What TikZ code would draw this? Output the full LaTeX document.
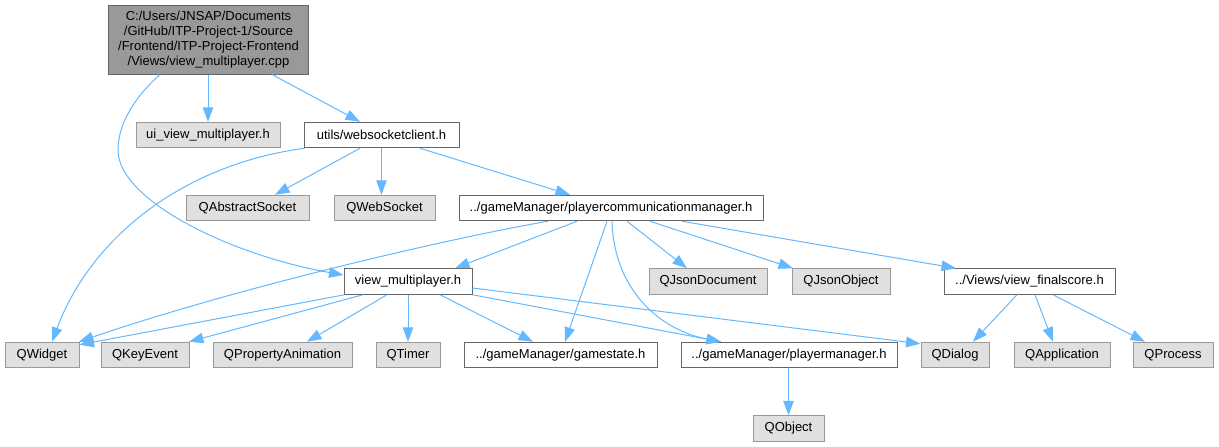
\documentclass[tikz,border=0pt]{standalone}
\usepackage{fontspec}
\setmainfont{Liberation Sans}
\usetikzlibrary{arrows.meta}
\definecolor{edgeblue}{HTML}{63B8FF}
\definecolor{nodegrey}{HTML}{E0E0E0}
\definecolor{bordergrey}{HTML}{999999}
\definecolor{borderdark}{HTML}{666666}
\definecolor{rootfill}{HTML}{999999}
\newcommand{\dgfont}{\fontsize{13}{15}\selectfont}
\begin{document}
\begin{tikzpicture}[x=1pt,y=1pt,
  basebox/.style={draw, line width=1pt, minimum height=25.5pt, inner sep=0pt, font=\dgfont},
  gbox/.style={basebox, fill=nodegrey, draw=bordergrey},
  wbox/.style={basebox, fill=white, draw=borderdark},
  rootbox/.style={draw=borderdark, fill=rootfill, line width=1pt, inner sep=0pt, font=\dgfont, align=center},
  edge/.style={draw=edgeblue, line width=1pt, -{Triangle[length=14.5pt,width=10.5pt]}}]
\useasboundingbox (0,0) rectangle (1219,-447);
% nodes
\node[rootbox, minimum width=200pt, minimum height=69pt] (root) at (208.5,-39.5)
  {C:/Users/JNSAP/Documents\\/GitHub/ITP-Project-1/Source\\/Frontend/ITP-Project-Frontend\\/Views/view\_multiplayer.cpp};
\node[gbox, minimum width=144pt] (ui) at (208,-135) {ui\_view\_multiplayer.h};
\node[wbox, minimum width=155pt] (ws) at (381.5,-135) {utils/websocketclient.h};
\node[gbox, minimum width=123pt] (qas) at (247.5,-208) {QAbstractSocket};
\node[gbox, minimum width=101pt] (qws) at (384.5,-208) {QWebSocket};
\node[wbox, minimum width=304pt] (pcm) at (611,-208) {../gameManager/playercommunicationmanager.h};
\node[wbox, minimum width=128pt] (vm) at (408,-281.5) {view\_multiplayer.h};
\node[gbox, minimum width=118pt] (qjd) at (708,-281.5) {QJsonDocument};
\node[gbox, minimum width=98pt] (qjo) at (841,-281.5) {QJsonObject};
\node[wbox, minimum width=171pt] (vfs) at (1029.5,-281.5) {../Views/view\_finalscore.h};
\node[gbox, minimum width=74pt] (qw) at (42,-355) {QWidget};
\node[gbox, minimum width=88pt] (qke) at (145,-355) {QKeyEvent};
\node[gbox, minimum width=139pt] (qpa) at (282.5,-355) {QPropertyAnimation};
\node[gbox, minimum width=64pt] (qt) at (408,-355) {QTimer};
\node[wbox, minimum width=193pt] (gs) at (560.5,-355) {../gameManager/gamestate.h};
\node[wbox, minimum width=216pt] (pm) at (789,-355) {../gameManager/playermanager.h};
\node[gbox, minimum width=68pt] (qd) at (955,-355) {QDialog};
\node[gbox, minimum width=96pt] (qa) at (1062,-355) {QApplication};
\node[gbox, minimum width=80pt] (qp) at (1173,-355) {QProcess};
\node[gbox, minimum width=71pt] (qo) at (788.5,-428.5) {QObject};
% edges from root
\draw[edge] (ui.north |- root.south) -- (ui.north);
\draw[edge] ([xshift=63.5pt]root.south) -- ([xshift=-21.5pt]ws.north);
\draw[edge] ([xshift=-48.5pt]root.south) .. controls (140,-92) and (118,-120) .. (118,-150)
  .. controls (118,-200) and (230,-255) .. ([yshift=6.5pt]vm.west);
% edges from websocketclient
\draw[edge] ([xshift=1pt]ws.south west) .. controls (180,-165) and (90,-240) .. ([xshift=10pt]qw.north);
\draw[edge] ([xshift=-21.5pt]ws.south) -- ([xshift=27.5pt]qas.north);
\draw[edge] (ws.south) -- (ws.south |- qws.north);
\draw[edge] ([xshift=38.5pt]ws.south) -- ([xshift=-41pt]pcm.north);
% edges from playercommunicationmanager
\draw[edge] ([xshift=-63pt]pcm.south) .. controls (440,-240) and (230,-290) .. ([xshift=37pt]qw.north);
\draw[edge] ([xshift=-34pt]pcm.south) -- ([xshift=47pt]vm.north);
\draw[edge] ([xshift=-4pt]pcm.south) -- ([xshift=4.5pt]gs.north);
\draw[edge] ([xshift=1pt]pcm.south) .. controls (614,-290) and (660,-330) .. ([xshift=-68pt]pm.north);
\draw[edge] ([xshift=16pt]pcm.south) -- ([xshift=-21pt]qjd.north);
\draw[edge] ([xshift=39pt]pcm.south) -- ([xshift=-48pt]qjo.north);
\draw[edge] ([xshift=71pt]pcm.south) -- ([xshift=-73.5pt]vfs.north);
% edges from view_multiplayer
\draw[edge] ([xshift=1pt]vm.south west) -- ([yshift=-3pt]qw.north east);
\draw[edge] ([xshift=-45pt]vm.south) -- ([xshift=44pt]qke.north);
\draw[edge] ([xshift=-21pt]vm.south) -- ([xshift=24.5pt]qpa.north);
\draw[edge] (vm.south) -- (vm.south |- qt.north);
\draw[edge] ([xshift=32pt]vm.south) -- ([xshift=-27.5pt]gs.north);
\draw[edge] (vm.south east) -- ([xshift=-68pt]pm.north);
\draw[edge] ([yshift=-6.5pt]vm.east) -- ([yshift=-2pt]qd.north west);
% edges from view_finalscore
\draw[edge] ([xshift=-12.5pt]vfs.south) -- ([xshift=18pt]qd.north);
\draw[edge] ([xshift=5.5pt]vfs.south) -- ([xshift=-9pt]qa.north);
\draw[edge] ([xshift=23.5pt]vfs.south) -- ([xshift=-28pt]qp.north);
% playermanager
\draw[edge] (qo.north |- pm.south) -- (qo.north);
\end{tikzpicture}
\end{document}
